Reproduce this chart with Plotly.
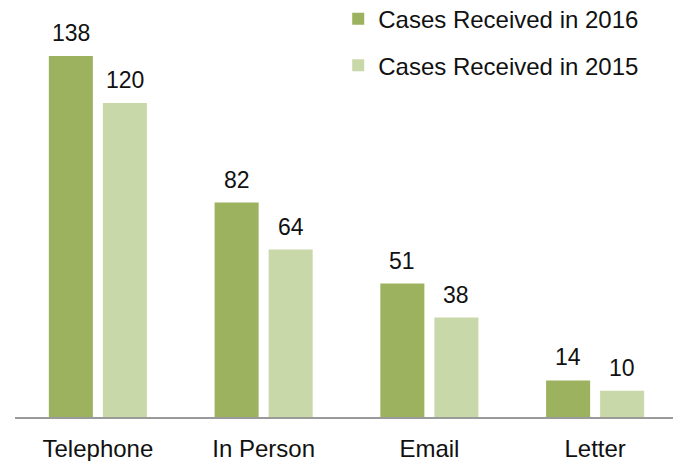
import plotly.graph_objects as go

categories = ["Telephone", "In Person", "Email", "Letter"]
cases_2016 = [138, 82, 51, 14]
cases_2015 = [120, 64, 38, 10]
series_names = ["Cases Received in 2016", "Cases Received in 2015"]
colors = ["#9db25f", "#c8d8a9"]

FONT = "Liberation Sans, Arial, Helvetica, sans-serif"
fig = go.Figure()
for name, vals, col, grp in [(series_names[0], cases_2016, colors[0], "a"),
                             (series_names[1], cases_2015, colors[1], "b")]:
    fig.add_trace(go.Bar(x=categories, y=vals, name=name, marker_color=col,
                         marker_line_width=0, legendgroup=grp))

# data labels above bars
for vals, shift in [(cases_2016, -27), (cases_2015, 27)]:
    for c, v in zip(categories, vals):
        fig.add_annotation(x=c, y=v, text=str(v), xref="x", yref="y",
                           xshift=shift, yshift=23, yanchor="middle",
                           showarrow=False, font=dict(size=23, color="#111111", family=FONT))

fig.update_layout(
    width=673, height=453,
    margin=dict(l=7, r=3, t=2, b=44, autoexpand=False),
    paper_bgcolor="white", plot_bgcolor="white",
    barmode="group", bargap=0.348, bargroupgap=0.185,
    font=dict(family=FONT, size=24, color="#111111"),
    showlegend=True,
    legend=dict(x=0.4875, y=1.033, xanchor="left", yanchor="top",
                traceorder="grouped", tracegroupgap=12.5,
                font=dict(size=24, color="#111111", family=FONT),
                bgcolor="rgba(0,0,0,0)"),
    xaxis=dict(showline=True, linecolor="#9a9a9a", linewidth=2,
               ticks="outside", ticklen=9, tickcolor="rgba(0,0,0,0)",
               tickfont=dict(size=24, color="#111111", family=FONT)),
    yaxis=dict(range=[0, 155.6], visible=False, showgrid=False),
)
fig.write_html("out.html")
